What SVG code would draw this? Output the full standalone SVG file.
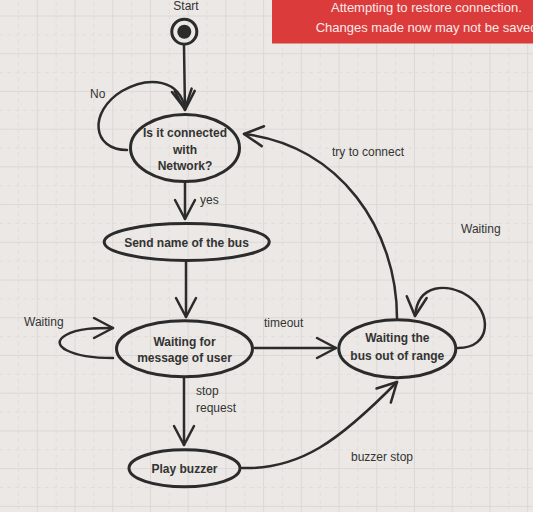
<svg xmlns="http://www.w3.org/2000/svg" width="533" height="512" viewBox="0 0 533 512">
<defs>
<pattern id="grid" patternUnits="userSpaceOnUse" x="36.8" y="15.5" width="37.72" height="37.72">
<rect width="37.72" height="37.72" fill="#ebe8e5"/>
<line x1="19.36" y1="0" x2="19.36" y2="37.72" stroke="#e0ddda" stroke-width="1" stroke-dasharray="4,4"/>
<line x1="0" y1="19.36" x2="37.72" y2="19.36" stroke="#e0ddda" stroke-width="1" stroke-dasharray="4,4"/>
<line x1="0.5" y1="0" x2="0.5" y2="37.72" stroke="#dbd8d5" stroke-width="1"/>
<line x1="0" y1="0.5" x2="37.72" y2="0.5" stroke="#dbd8d5" stroke-width="1"/>
</pattern>
<marker id="arr" markerUnits="userSpaceOnUse" markerWidth="24" markerHeight="24" refX="20" refY="10" orient="auto" overflow="visible">
<path d="M1,0 L20,10 L1,20" fill="none" stroke="#2b2b2b" stroke-width="2.5" stroke-linecap="round" stroke-linejoin="round"/>
</marker>
</defs>
<style>
.node{fill:none;stroke:#2b2b2b;stroke-width:3}
.nt{font-family:"Liberation Sans",Arial,sans-serif;font-size:12px;font-weight:bold;fill:#333;text-anchor:middle}
.lb{font-family:"Liberation Sans",Arial,sans-serif;font-size:12px;fill:#333}
.edge{fill:none;stroke:#2b2b2b;stroke-width:2.5;stroke-linecap:round;marker-end:url(#arr)}
.ban{font-family:"Liberation Sans",Arial,sans-serif;font-size:13px;fill:#fbeaea}
</style>
<rect width="533" height="512" fill="url(#grid)"/>

<g id="connectors">
<path class="edge" d="M184,46 L185,110"/>
<path class="edge" d="M127,150 C92,150 88,112 122,91 C150,75 180,80 185,109"/>
<path class="edge" d="M185,183 L185,219"/>
<path class="edge" d="M186,262 L186,317"/>
<path class="edge" d="M113,358 C70,358 48,345 66,335 C78,328 96,328 113,328"/>
<path class="edge" d="M255,348 L336,348"/>
<path class="edge" d="M458,348 C492,348 492,312 468,296 C448,283 418,283 415,316"/>
<path class="edge" d="M397,318 C397,230 340,145 244,134"/>
<path class="edge" d="M184,378 L184,445"/>
<path class="edge" d="M242,468 C300,470 340,440 397,382"/>
</g>

<g id="labels">
<text class="lb" x="90" y="98">No</text>
<text class="lb" x="200" y="204">yes</text>
<text class="lb" x="24" y="326">Waiting</text>
<text class="lb" x="264" y="327">timeout</text>
<text class="lb" x="332" y="156">try to connect</text>
<text class="lb" x="461" y="233">Waiting</text>
<text class="lb" x="196" y="395">stop</text>
<text class="lb" x="196" y="412">request</text>
<text class="lb" x="351" y="461">buzzer stop</text>
</g>

<g id="start">
<text class="lb" x="186" y="10" text-anchor="middle">Start</text>
<circle cx="184.3" cy="31.7" r="12.5" fill="none" stroke="#2b2b2b" stroke-width="3"/>
<circle cx="184.3" cy="31.7" r="7" fill="#2b2b2b"/>
</g>

<g id="n-connected">
<ellipse class="node" cx="185" cy="148" rx="54.5" ry="33.5"/>
<text class="nt" x="185" y="137">Is it connected</text>
<text class="nt" x="185" y="154">with</text>
<text class="nt" x="185" y="170">Network?</text>
</g>

<g id="n-send">
<ellipse class="node" cx="186.7" cy="242" rx="82.5" ry="18.5"/>
<text class="nt" x="186.5" y="247">Send name of the bus</text>
</g>

<g id="n-waitmsg">
<ellipse class="node" cx="184.5" cy="348.8" rx="68" ry="28"/>
<text class="nt" x="184.5" y="345.5">Waiting for</text>
<text class="nt" x="184.5" y="362">message of user</text>
</g>

<g id="n-waitbus">
<ellipse class="node" cx="397.3" cy="348.7" rx="58.5" ry="29"/>
<text class="nt" x="397.3" y="342">Waiting the</text>
<text class="nt" x="397.3" y="359.5">bus out of range</text>
</g>

<g id="n-buzzer">
<ellipse class="node" cx="184.5" cy="468.3" rx="55.5" ry="18.5"/>
<text class="nt" x="184.5" y="473">Play buzzer</text>
</g>

<g id="banner">
<rect x="272" y="0" width="261" height="43.5" fill="#dc3b3b"/>
<text class="ban" x="331" y="12">Attempting to restore connection.</text>
<text class="ban" x="315.7" y="32">Changes made now may not be saved.</text>
</g>
</svg>
